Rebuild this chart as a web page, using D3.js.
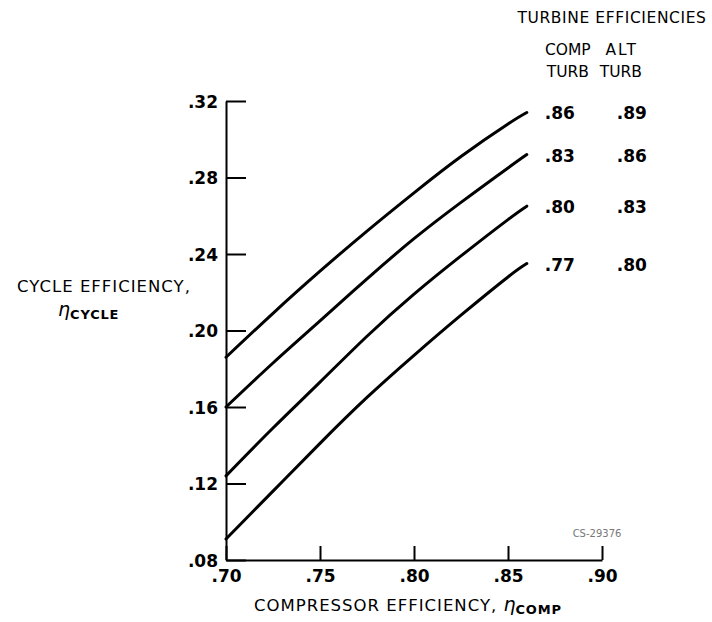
<!DOCTYPE html>
<html>
<head>
<meta charset="utf-8">
<script src="https://cdn.jsdelivr.net/npm/d3@7"></script>
<style>
  body { margin: 0; background: #fff; }
  svg { display: block; }
  text { font-family: "DejaVu Sans", sans-serif; fill: #000; }
</style>
</head>
<body>
<svg id="chart"></svg>
<script>
// compressor efficiency (x) where the curves were read
const compEff = [0.70, 0.725, 0.75, 0.775, 0.80, 0.825, 0.85, 0.86]
// cycle efficiency for each turbine efficiency pair
const cycle86 = [0.186, 0.209, 0.231, 0.252, 0.272, 0.291, 0.308, 0.314]
const cycle83 = [0.160, 0.183, 0.205, 0.227, 0.248, 0.267, 0.285, 0.292]
const cycle80 = [0.124, 0.149, 0.173, 0.197, 0.219, 0.239, 0.258, 0.265]
const cycle77 = [0.091, 0.116, 0.141, 0.165, 0.187, 0.208, 0.228, 0.235]
// legend labels
const compTurb = [".86", ".83", ".80", ".77"]
const altTurb = [".89", ".86", ".83", ".80"]
// ticks
const xTicks = [0.70, 0.75, 0.80, 0.85, 0.90]
const yTicks = [0.08, 0.12, 0.16, 0.20, 0.24, 0.28, 0.32]

const width = 712
const height = 622
const svg = d3.select('#chart')
    .attr('width', width)
    .attr('height', height)

const x = d3.scaleLinear().domain([0.70, 0.90]).range([226, 602])
const y = d3.scaleLinear().domain([0.08, 0.32]).range([560, 101])

// strip the leading zero, like ".32"
const fmt = d => d3.format('.2f')(d).replace(/^0/, '')

// y axis, ticks point inward
const yAxis = svg.append('g')
    .attr('transform', `translate(${x(0.70)},0)`)
    .call(d3.axisLeft(y).tickValues(yTicks).tickFormat(fmt)
        .tickSizeInner(-20).tickSizeOuter(0).tickPadding(8))
yAxis.select('.domain').attr('stroke-width', 2)
yAxis.selectAll('.tick line').attr('stroke-width', 2)
yAxis.selectAll('.tick text')
    .attr('font-size', 17).attr('font-weight', 'bold').attr('dy', '0.36em')

// x axis, ticks point upward
const xAxis = svg.append('g')
    .attr('transform', `translate(0,${y(0.08)})`)
    .call(d3.axisBottom(x).tickValues(xTicks).tickFormat(fmt)
        .tickSizeInner(-14).tickSizeOuter(0).tickPadding(10))
xAxis.select('.domain').attr('stroke-width', 2)
xAxis.selectAll('.tick line').attr('stroke-width', 2)
xAxis.selectAll('.tick text')
    .attr('font-size', 17).attr('font-weight', 'bold')

// the curves
const series = [cycle86, cycle83, cycle80, cycle77]
const line = d3.line()
    .x((d, i) => x(compEff[i]))
    .y(d => y(d))
    .curve(d3.curveNatural)

svg.append('g').selectAll('path')
    .data(series)
    .join('path')
    .attr('d', line)
    .attr('fill', 'none')
    .attr('stroke', '#000')
    .attr('stroke-width', 3)
    .attr('stroke-linecap', 'round')

// legend at the end of each curve
const xEnd = x(compEff[compEff.length - 1])
const legend = svg.append('g')
legend.append('text').attr('x', 612).attr('y', 23)
    .attr('text-anchor', 'middle').attr('font-size', 15.5)
    .attr('letter-spacing', 0.6)
    .text('TURBINE EFFICIENCIES')
legend.append('text').attr('x', xEnd + 41).attr('y', 55)
    .attr('text-anchor', 'middle').attr('font-size', 15.5).text('COMP')
legend.append('text').attr('x', xEnd + 41).attr('y', 77)
    .attr('text-anchor', 'middle').attr('font-size', 15.5).text('TURB')
legend.append('text').attr('x', xEnd + 95).attr('y', 55)
    .attr('text-anchor', 'middle').attr('font-size', 15.5)
    .attr('letter-spacing', 2).text('ALT')
legend.append('text').attr('x', xEnd + 94).attr('y', 77)
    .attr('text-anchor', 'middle').attr('font-size', 15.5).text('TURB')

legend.selectAll('.comp')
    .data(series)
    .join('text')
    .attr('class', 'comp')
    .attr('x', xEnd + 33)
    .attr('y', d => y(d[d.length - 1]) + 7)
    .attr('text-anchor', 'middle')
    .attr('font-size', 17).attr('font-weight', 'bold')
    .text((d, i) => compTurb[i])
legend.selectAll('.alt')
    .data(series)
    .join('text')
    .attr('class', 'alt')
    .attr('x', xEnd + 105)
    .attr('y', d => y(d[d.length - 1]) + 7)
    .attr('text-anchor', 'middle')
    .attr('font-size', 17).attr('font-weight', 'bold')
    .text((d, i) => altTurb[i])

// axis titles
svg.append('text').attr('x', 104).attr('y', 292)
    .attr('text-anchor', 'middle').attr('font-size', 16.5)
    .attr('letter-spacing', 1)
    .text('CYCLE EFFICIENCY,')
const yt = svg.append('text').attr('x', 58).attr('y', 316).attr('font-size', 16.5)
yt.append('tspan').attr('font-style', 'italic').attr('font-size', 19).text('η')
yt.append('tspan').attr('font-size', 13).attr('font-weight', 'bold')
    .attr('letter-spacing', 0.8).attr('dy', 3).text('CYCLE')

const xt = svg.append('text').attr('x', 254).attr('y', 611).attr('font-size', 16.5)
xt.append('tspan').attr('letter-spacing', 1).text('COMPRESSOR EFFICIENCY, ')
xt.append('tspan').attr('font-style', 'italic').attr('font-size', 19).text('η')
xt.append('tspan').attr('font-size', 13).attr('font-weight', 'bold')
    .attr('letter-spacing', 0.8).attr('dy', 3).text('COMP')

// figure number
svg.append('text').attr('x', 597).attr('y', 537)
    .attr('text-anchor', 'middle').attr('font-size', 10)
    .attr('font-family', 'DejaVu Sans Mono').style('fill', '#777')
    .text('CS-29376')
</script>
</body>
</html>
